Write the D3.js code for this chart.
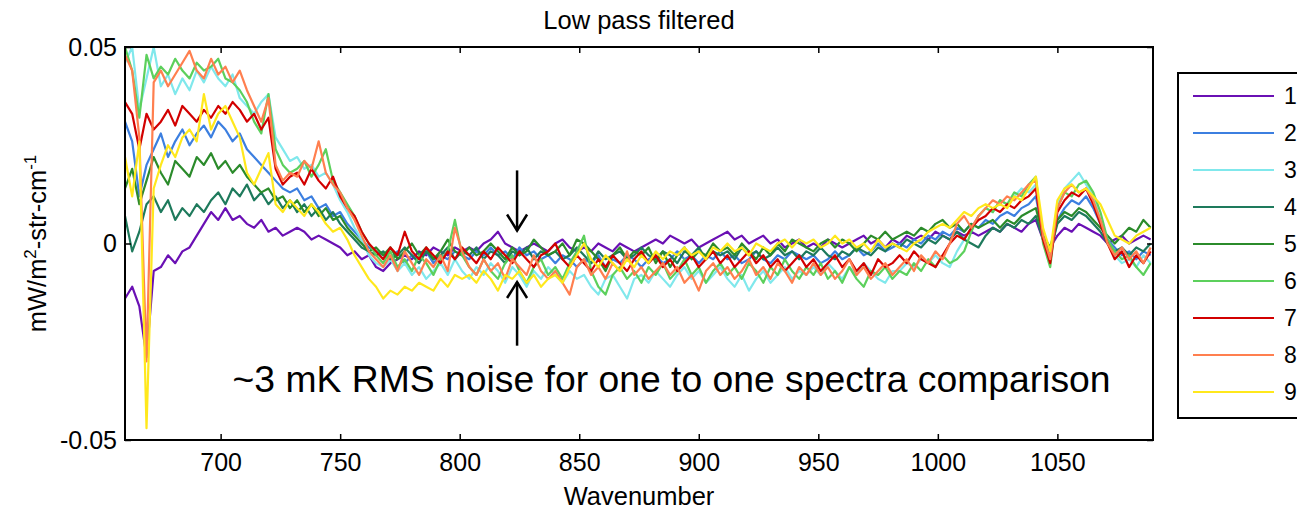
<!DOCTYPE html>
<html>
<head>
<meta charset="utf-8">
<script src="https://cdn.jsdelivr.net/npm/d3@7.9.0/dist/d3.min.js"></script>
<style>
  body { margin: 0; background: #fff; }
  svg { display: block; font-family: "Liberation Sans", Arial, sans-serif; }
</style>
</head>
<body>
<svg id="chart" width="1297" height="510"></svg>
<script>
// wavenumber grid (cm-1), one sample every 3
const wavenumber = d3.range(660, 1090, 3);

// radiance differences, in units of 0.001 mW/m2-str-cm-1
const s1 = [-14,-11,-16,-29,-7,-6,-3,-5,-2,-1,2,5, 8,6,9,6,7,5,4,6,3,4,2,3, 4,3,1,2,1,0,-1,-3,-2,-4,-3,-6,
  -7,-5,-4,-3,-4,-2,-3,-1,-2,-3,-1,-2, -1,-2,0,1,3,0,-1,-2,-1,0,-1,-2, 0,1,-1,-2,-1,-2,0,-1,-2,0,-1,-2,
  -1,0,1,0,2,1,0,1,-1,0,1,2, 3,1,2,0,1,2,0,1,-1,0,1,-1, 0,-1,1,0,-1,0,1,2,0,1,-1,1,
  0,2,1,2,1,3,2,1,3,2,3,2, 3,4,3,5,4,3,5,6,1,-1,2,4, 3,5,4,3,2,0,1,2,0,1,2,1];
const s2 = [31,26,12,20,24,28,22,26,29,25,28,30, 27,31,29,26,28,24,22,20,18,16,14,13, 14,11,12,9,10,7,8,5,3,1,-1,-2,
  -3,-4,-2,-5,-3,-4,-2,-5,-3,-4,-2,-3, -4,-2,-3,-1,-3,-2,-4,-1,-3,-2,-4,-3, -5,-3,-4,-6,-4,-5,-3,-6,-4,-5,-3,-4,
  -6,-4,-3,-5,-4,-2,-4,-3,-5,-3,-4,-2, -4,-3,-5,-4,-2,-4,-5,-3,-4,-2,-3,-4, -3,-5,-4,-2,-4,-3,-1,-3,-2,0,-2,-1,
  0,-1,1,0,2,1,3,2,4,3,5,4, 6,5,7,8,7,9,10,12,2,-3,6,9, 11,10,12,9,5,1,-1,-3,-2,-4,-2,-3];
const s3 = [46,50,34,42,50,40,43,38,42,39,44,41, 45,42,40,43,37,35,33,36,38,27,24,21, 22,19,20,17,18,15,11,8,4,1,-3,-5,
  -6,-4,-7,-5,-8,-6,-9,-7,-5,-8,-4,-7, -9,-6,-8,-5,-7,-10,-6,-8,-11,-7,-9,-6, -8,-10,-7,-9,-8,-11,-13,-9,-8,-11,-14,-9,
  -8,-10,-7,-9,-11,-8,-6,-9,-7,-10,-8,-6, -9,-11,-8,-12,-9,-7,-10,-8,-6,-9,-7,-8, -6,-8,-5,-7,-9,-6,-8,-5,-7,-9,-10,-7,
  -7,-5,-6,-4,-5,-3,-5,-6,-2,1,4,7, 9,8,11,10,12,14,13,15,3,-4,10,14, 16,18,15,12,6,0,-3,-5,-4,-6,-3,-5];
const s4 = [7,-2,3,10,12,8,11,6,9,7,10,8, 11,13,10,14,12,15,11,13,10,12,9,11, 8,10,7,9,6,8,5,3,1,-1,-2,-3,
  -2,-4,-3,-1,-3,-5,-2,-4,-3,-1,-4,-2, -3,-1,-4,-2,-3,-5,-2,-3,-1,-4,-2,-3, -2,-4,-3,-1,-3,-5,-2,-4,-3,-2,-4,-3,
  -1,-3,-4,-2,-3,-5,-2,-3,-1,-4,-2,-3, -2,-4,-1,-3,-2,-4,-3,-1,-3,-2,-4,-2, -3,-1,-3,-4,-2,-3,-1,-2,-3,-1,-2,0,
  -1,1,0,-1,1,0,2,1,3,1,0,-1, 2,4,3,5,4,6,5,7,1,-2,5,7, 6,8,7,5,3,0,-2,-1,-3,-1,-2,0];
const s5 = [14,19,10,16,22,18,15,21,19,17,22,20, 23,19,21,18,20,17,15,13,14,11,12,9, 11,8,10,7,9,6,7,4,2,0,-2,-1,
  -3,-1,-4,-2,0,-3,-1,-4,-2,1,-2,-3, -1,-3,-2,0,-2,-4,-1,-3,-2,1,-1,-3, -2,0,-3,1,0,-2,-4,-7,-3,-1,-4,-2,
  -3,-1,-5,-2,-6,-3,-1,-4,-2,-3,0,-2, -1,-3,0,-2,-4,-1,-3,0,-2,1,0,-1, -2,0,1,-1,1,0,-2,0,2,1,3,1,
  2,3,2,4,3,5,6,4,5,3,5,4, 5,6,4,6,5,7,8,9,2,-1,6,8, 7,9,8,6,4,2,0,2,4,3,6,4];
const s6 = [50,44,32,48,42,45,43,47,44,42,46,44, 45,47,42,41,39,36,31,28,38,24,20,18, 19,21,17,20,24,16,13,10,7,3,0,-3,
  -5,-2,-6,-4,-7,-3,-5,-8,-4,-2,6,-3, -6,-8,-4,-7,-9,-5,-3,-7,-10,-6,-4,-8, -6,-9,-5,-2,2,-7,-11,-13,-8,-6,-9,-7,
  -10,-6,-8,-5,-9,-7,-4,-8,-6,-10,-7,-5, -8,-6,-9,-5,-7,-10,-6,-8,-4,-7,-9,-6, -8,-5,-9,-7,-10,-6,-9,-11,-7,-8,-6,-9,
  -7,-8,-5,-7,-4,-6,-3,-5,-4,-2,3,7, 9,8,11,10,13,12,15,17,0,-6,9,13, 12,15,16,13,8,1,-2,-4,-3,-6,-8,-5];
const s7 = [36,33,24,33,29,31,34,30,35,33,31,34, 32,35,33,36,34,31,33,29,32,19,15,17, 18,15,19,16,14,17,12,9,7,3,0,-2,
  -4,-1,-3,3,-2,-4,-1,-3,-5,-2,-4,-1, -3,-5,-2,-4,-1,-3,-5,-2,-4,-6,-3,-2, 0,-4,-6,-3,-5,-7,-4,-6,-3,-5,-7,-4,
  -2,-5,-3,-6,-4,-7,-5,-3,-6,-4,-2,-5, -3,-6,-4,-2,-5,-3,-6,-4,-7,-5,-3,-6, -4,-7,-5,-3,-6,-4,-7,-5,-8,-4,-6,-5,
  -3,-5,-2,-4,-5,-6,-3,0,2,1,4,6, 7,9,8,10,9,11,12,14,1,-5,8,11, 13,12,14,10,5,0,-4,-2,-6,-3,-5,-2];
const s8 = [48,44,27,-30,41,44,40,43,46,49,44,42, 47,43,45,41,44,39,35,31,37,20,16,18, 17,21,19,26,18,15,13,9,6,2,-2,-4,
  -6,-3,-7,-2,-5,-8,-4,-6,-3,-7,4,-2, -6,-8,-4,-7,-5,-9,-4,-6,-8,-3,-7,-9, -7,-10,-13,-6,-4,-8,-6,-9,-5,-7,-2,-8,
  -6,-9,-7,-5,-8,-6,-10,-8,-12,-7,-5,-8, -6,-9,-7,-4,-8,-6,-9,-5,-7,-10,-6,-8, -5,-8,-6,-9,-7,-4,-8,-6,-9,-7,-5,-8,
  -6,-4,-7,-3,-5,-2,-4,0,5,7,4,7, 9,11,10,12,11,13,15,16,2,-4,9,13, 15,13,14,11,6,0,-3,-1,-4,-2,-5,-1];
const s9 = [22,12,26,-47,14,20,25,22,27,29,26,38, 29,33,35,31,27,18,15,19,23,10,8,11, 9,7,10,8,5,3,4,1,-3,-6,-9,-11,
  -14,-12,-13,-11,-12,-10,-11,-12,-9,-11,-8,-9, -8,-10,-7,-9,-12,-8,-9,-7,-10,-8,-11,-9, -8,-10,-6,-3,0,-4,-6,-3,-5,-7,-4,-6,
  -3,-5,-2,-4,-2,-3,-1,-3,-2,-4,-1,-2, 0,-2,-1,-3,0,-1,-2,0,1,-1,1,0, 1,-1,0,2,0,1,-1,0,-2,1,-1,0,
  -1,-2,0,1,3,4,5,4,6,8,7,9, 10,9,10,9,12,11,14,17,4,-2,11,14, 15,13,14,12,10,6,2,1,0,2,3,4];

const seriesNames = ["1", "2", "3", "4", "5", "6", "7", "8", "9"];
const seriesValues = [s1, s2, s3, s4, s5, s6, s7, s8, s9];
const colors = ["#6a10b4", "#3c7fe0", "#80e8ec", "#1e7a5c", "#2b8b2b", "#5cd05c", "#d20000", "#ff7f4f", "#ffe81c"];

const xTicks = [700, 750, 800, 850, 900, 950, 1000, 1050];
const yTicks = [-0.05, 0, 0.05];
const yTickLabels = ["-0.05", "0", "0.05"];

// arrow annotation (wavenumber, from-value, to-value)
const arrowWn = 824;
const arrowDown = [0.0186, 0.0033];
const arrowUp = [-0.026, -0.0098];

const svg = d3.select("#chart");
const plotLeft = 125, plotRight = 1153, plotTop = 47, plotBottom = 440;

const x = d3.scaleLinear().domain([660, 1090]).range([plotLeft, plotRight]);
const y = d3.scaleLinear().domain([-0.05, 0.05]).range([plotBottom, plotTop]);

svg.append("defs").append("clipPath").attr("id", "plotclip")
  .append("rect").attr("x", plotLeft).attr("y", plotTop)
  .attr("width", plotRight - plotLeft).attr("height", plotBottom - plotTop);

// title
svg.append("text")
  .attr("x", (plotLeft + plotRight) / 2).attr("y", 29)
  .attr("text-anchor", "middle").attr("font-size", 25.5)
  .text("Low pass filtered");

// series lines
const line = d3.line()
  .x((d, i) => x(wavenumber[i]))
  .y(d => y(d / 1000));

const lines = svg.append("g").attr("clip-path", "url(#plotclip)");
seriesValues.forEach((vals, idx) => {
  lines.append("path")
    .attr("d", line(vals))
    .attr("fill", "none")
    .attr("stroke", colors[idx])
    .attr("stroke-width", 2.2)
    .attr("stroke-linejoin", "round");
});

// axes (MATLAB style box with inward ticks)
const fmt = d3.format("d");
svg.append("g").attr("transform", `translate(0,${plotBottom})`)
  .call(d3.axisBottom(x).tickValues(xTicks).tickFormat(fmt).tickSizeInner(-6).tickSizeOuter(0).tickPadding(13));
svg.append("g").attr("transform", `translate(0,${plotTop})`)
  .call(d3.axisTop(x).tickValues(xTicks).tickFormat("").tickSizeInner(-6).tickSizeOuter(0));
svg.append("g").attr("transform", `translate(${plotLeft},0)`)
  .call(d3.axisLeft(y).tickValues(yTicks).tickFormat((d, i) => yTickLabels[i]).tickSizeInner(-6).tickSizeOuter(0).tickPadding(8));
svg.append("g").attr("transform", `translate(${plotRight},0)`)
  .call(d3.axisRight(y).tickValues(yTicks).tickFormat("").tickSizeInner(-6).tickSizeOuter(0));

svg.selectAll(".domain").remove();
svg.selectAll(".tick line").attr("stroke", "#000").attr("stroke-width", 1.5);
svg.selectAll(".tick text").attr("font-size", 25).attr("fill", "#000")
  .attr("font-family", "'Liberation Sans', Arial, sans-serif");

svg.append("rect")
  .attr("x", plotLeft).attr("y", plotTop)
  .attr("width", plotRight - plotLeft).attr("height", plotBottom - plotTop)
  .attr("fill", "none").attr("stroke", "#000").attr("stroke-width", 2);

// axis labels
svg.append("text")
  .attr("x", (plotLeft + plotRight) / 2).attr("y", 505)
  .attr("text-anchor", "middle").attr("font-size", 25.5)
  .text("Wavenumber");

const ylab = svg.append("text")
  .attr("transform", `translate(46,${(plotTop + plotBottom) / 2}) rotate(-90)`)
  .attr("text-anchor", "middle").attr("font-size", 25.5);
ylab.append("tspan").text("mW/m");
ylab.append("tspan").attr("font-size", 17).attr("dy", -10).text("2");
ylab.append("tspan").attr("dy", 10).text("-str-cm");
ylab.append("tspan").attr("font-size", 17).attr("dy", -10).text("-1");

// arrows
function arrow(vals) {
  const ax = x(arrowWn), y0 = y(vals[0]), y1 = y(vals[1]);
  const dir = y1 > y0 ? 1 : -1;
  svg.append("line").attr("x1", ax).attr("x2", ax).attr("y1", y0).attr("y2", y1)
    .attr("stroke", "#000").attr("stroke-width", 2.5);
  svg.append("path")
    .attr("d", `M${ax - 10},${y1 - dir * 16}L${ax},${y1}L${ax + 10},${y1 - dir * 16}`)
    .attr("fill", "none").attr("stroke", "#000").attr("stroke-width", 2.5);
}
arrow(arrowDown);
arrow(arrowUp);

svg.append("text")
  .attr("x", x(705)).attr("y", 392)
  .attr("font-size", 37.3)
  .text("~3 mK RMS noise for one to one spectra comparison");

// legend
const legend = svg.append("g");
legend.append("rect")
  .attr("x", 1178).attr("y", 73).attr("width", 160).attr("height", 345)
  .attr("fill", "#fff").attr("stroke", "#000").attr("stroke-width", 2);
seriesNames.forEach((name, idx) => {
  const ly = 96 + idx * 37;
  legend.append("line")
    .attr("x1", 1193).attr("x2", 1274).attr("y1", ly).attr("y2", ly)
    .attr("stroke", colors[idx]).attr("stroke-width", 2);
  legend.append("text")
    .attr("x", 1284).attr("y", ly).attr("dy", "0.35em")
    .attr("font-size", 23)
    .text(name);
});
</script>
</body>
</html>
